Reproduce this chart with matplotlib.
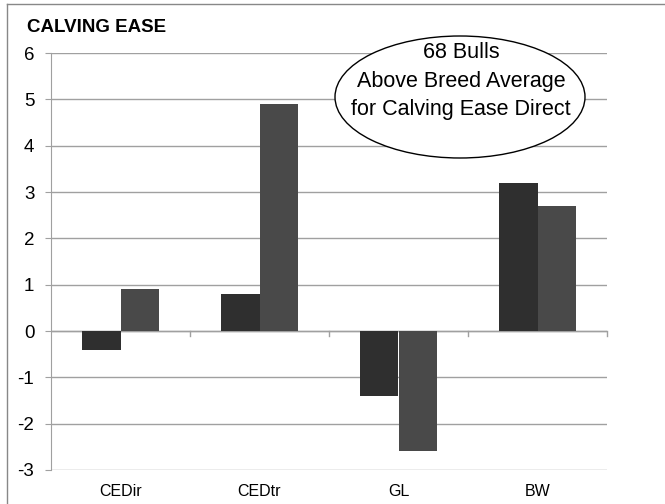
import matplotlib.pyplot as plt
import numpy as np
from matplotlib.patches import Ellipse
from matplotlib.lines import Line2D

categories = ['CEDir', 'CEDtr', 'GL', 'BW']
series_a = [-0.4, 0.8, -1.4, 3.2]
series_b = [0.9, 4.9, -2.6, 2.7]
y_ticks = [-3, -2, -1, 0, 1, 2, 3, 4, 5, 6]

plt.rcParams['font.family'] = ['Liberation Sans', 'DejaVu Sans']

fig = plt.figure(figsize=(6.65, 5.04), dpi=100)
ax = fig.add_axes([51 / 665, 34 / 504, (607 - 51) / 665, (451 - 34) / 504])

x = np.arange(len(categories))
w = 0.28
ax.bar(x - w / 2, series_a, w, color='#2f2f2f', zorder=3)
ax.bar(x + w / 2, series_b, w, color='#494949', zorder=3)

ax.set_xlim(-0.5, len(categories) - 0.5)
ax.set_ylim(-3, 6)
ax.set_yticks(y_ticks)
ax.set_yticklabels([str(t) for t in y_ticks], fontsize=13.5)
ax.yaxis.grid(True, color='#a0a0a0', linewidth=1, zorder=0)
ax.tick_params(axis='y', length=4, color='#a0a0a0', pad=8)
ax.set_xticks(x)
ax.set_xticklabels(categories, fontsize=11.5)
ax.tick_params(axis='x', length=0, pad=10)
for s in ['top', 'right', 'bottom']:
    ax.spines[s].set_visible(False)
ax.spines['left'].set_color('#a0a0a0')

# zero line with category separator ticks
ax.axhline(0, color='#a0a0a0', linewidth=1, zorder=2)
for b in np.arange(0.5, len(categories) - 0.5 + 1e-9, 1.0):
    ax.plot([b, b], [0, -0.1], color='#a0a0a0', linewidth=1, zorder=2, clip_on=False)

fig.text(27 / 665, 1 - 28 / 504, 'CALVING EASE', fontsize=13.5, fontweight='bold', va='center')

# outer frame (left and top)
fig.add_artist(Line2D([7 / 665, 7 / 665], [0, 1 - 4 / 504], color='#888888', linewidth=1))
fig.add_artist(Line2D([7 / 665, 1], [1 - 4 / 504, 1 - 4 / 504], color='#888888', linewidth=1))

# callout ellipse
fig.add_artist(Ellipse((460 / 665, 1 - 97 / 504), 250 / 665, 122 / 504,
                       transform=fig.transFigure, facecolor='white', edgecolor='black',
                       linewidth=1, zorder=5))
for yy, t in [(52, '68 Bulls'), (81, 'Above Breed Average'), (110, 'for Calving Ease Direct')]:
    fig.text(461 / 665, 1 - yy / 504, t, fontsize=15.5, ha='center', va='center', zorder=6)

fig.savefig('out.png', dpi=100)
